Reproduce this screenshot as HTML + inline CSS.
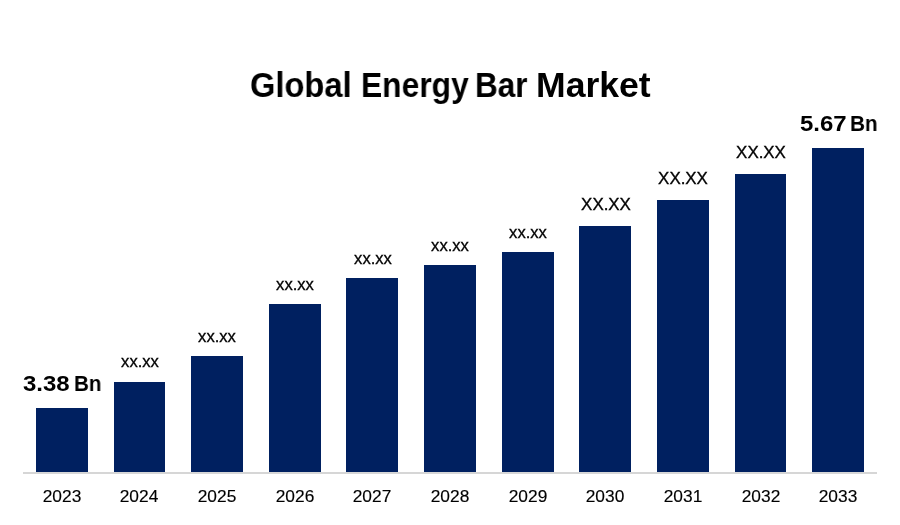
<!DOCTYPE html>
<html><head><meta charset="utf-8"><style>
html,body{margin:0;padding:0;background:#fff;}
body{width:900px;height:525px;position:relative;overflow:hidden;font-family:"Liberation Sans",sans-serif;color:#000;}
.bar{position:absolute;background:#002060;}
.t{position:absolute;white-space:nowrap;line-height:1;will-change:transform;}
.axis{position:absolute;left:23px;top:472px;width:854px;height:2px;background:#d6d6d6;}
</style></head><body>
<div class="t" style="font-size:35px;top:67.07px;font-weight:bold;left:249.89px;transform:scaleX(0.9327);transform-origin:0 0;">Global</div>
<div class="t" style="font-size:35px;top:67.07px;font-weight:bold;left:360.52px;transform:scaleX(0.9078);transform-origin:0 0;">Energy</div>
<div class="t" style="font-size:35px;top:67.07px;font-weight:bold;left:475.14px;transform:scaleX(0.899);transform-origin:0 0;">Bar</div>
<div class="t" style="font-size:35px;top:67.07px;font-weight:bold;left:535.52px;transform:scaleX(1.0163);transform-origin:0 0;">Market</div>
<div class="t" style="font-size:22.5px;top:373.05px;font-weight:bold;left:22.89px;transform:scaleX(1.0659);transform-origin:0 0;">3.38</div>
<div class="t" style="font-size:22.5px;top:373.05px;font-weight:bold;left:73.54px;transform:scaleX(0.9144);transform-origin:0 0;">Bn</div>
<div class="t" style="font-size:22.5px;top:113.45px;font-weight:bold;left:800.30px;transform:scaleX(1.064);transform-origin:0 0;">5.67</div>
<div class="t" style="font-size:22.5px;top:113.45px;font-weight:bold;left:849.89px;transform:scaleX(0.9192);transform-origin:0 0;">Bn</div>
<div class="bar" style="left:36px;top:408px;width:52px;height:64px"></div>
<div class="bar" style="left:114px;top:382px;width:51px;height:90px"></div>
<div class="bar" style="left:191px;top:356px;width:52px;height:116px"></div>
<div class="bar" style="left:269px;top:304px;width:52px;height:168px"></div>
<div class="bar" style="left:346px;top:278px;width:52px;height:194px"></div>
<div class="bar" style="left:424px;top:265px;width:52px;height:207px"></div>
<div class="bar" style="left:502px;top:252px;width:52px;height:220px"></div>
<div class="bar" style="left:579px;top:226px;width:52px;height:246px"></div>
<div class="bar" style="left:657px;top:200px;width:52px;height:272px"></div>
<div class="bar" style="left:735px;top:174px;width:51px;height:298px"></div>
<div class="bar" style="left:812px;top:148px;width:52px;height:324px"></div>
<div class="axis"></div>
<div class="t" style="font-size:16.6px;top:353.75px;-webkit-text-stroke:0.3px #000;left:140.05px;transform:translateX(-50%) scaleX(1.0);">xx.xx</div>
<div class="t" style="font-size:16.6px;top:328.85px;-webkit-text-stroke:0.3px #000;left:217.00px;transform:translateX(-50%) scaleX(1.0);">xx.xx</div>
<div class="t" style="font-size:16.6px;top:277.05px;-webkit-text-stroke:0.3px #000;left:295.00px;transform:translateX(-50%) scaleX(1.0);">xx.xx</div>
<div class="t" style="font-size:16.6px;top:250.85px;-webkit-text-stroke:0.3px #000;left:373.05px;transform:translateX(-50%) scaleX(1.0);">xx.xx</div>
<div class="t" style="font-size:16.6px;top:237.85px;-webkit-text-stroke:0.3px #000;left:450.00px;transform:translateX(-50%) scaleX(1.0);">xx.xx</div>
<div class="t" style="font-size:16.6px;top:224.85px;-webkit-text-stroke:0.3px #000;left:528.00px;transform:translateX(-50%) scaleX(1.0);">xx.xx</div>
<div class="t" style="font-size:16.6px;top:196.65px;-webkit-text-stroke:0.35px #000;left:605.90px;transform:translateX(-50%) scaleX(1.018);">XX.XX</div>
<div class="t" style="font-size:16.6px;top:170.65px;-webkit-text-stroke:0.35px #000;left:682.90px;transform:translateX(-50%) scaleX(1.018);">XX.XX</div>
<div class="t" style="font-size:16.6px;top:144.65px;-webkit-text-stroke:0.35px #000;left:760.90px;transform:translateX(-50%) scaleX(1.018);">XX.XX</div>
<div class="t" style="font-size:17px;top:487.51px;-webkit-text-stroke:0.15px #000;left:62.20px;transform:translateX(-50%) scaleX(1.02);">2023</div>
<div class="t" style="font-size:17px;top:487.51px;-webkit-text-stroke:0.15px #000;left:139.20px;transform:translateX(-50%) scaleX(1.02);">2024</div>
<div class="t" style="font-size:17px;top:487.51px;-webkit-text-stroke:0.15px #000;left:217.20px;transform:translateX(-50%) scaleX(1.02);">2025</div>
<div class="t" style="font-size:17px;top:487.51px;-webkit-text-stroke:0.15px #000;left:295.20px;transform:translateX(-50%) scaleX(1.02);">2026</div>
<div class="t" style="font-size:17px;top:487.51px;-webkit-text-stroke:0.15px #000;left:372.20px;transform:translateX(-50%) scaleX(1.02);">2027</div>
<div class="t" style="font-size:17px;top:487.51px;-webkit-text-stroke:0.15px #000;left:450.20px;transform:translateX(-50%) scaleX(1.02);">2028</div>
<div class="t" style="font-size:17px;top:487.51px;-webkit-text-stroke:0.15px #000;left:528.20px;transform:translateX(-50%) scaleX(1.02);">2029</div>
<div class="t" style="font-size:17px;top:487.51px;-webkit-text-stroke:0.15px #000;left:605.20px;transform:translateX(-50%) scaleX(1.02);">2030</div>
<div class="t" style="font-size:17px;top:487.51px;-webkit-text-stroke:0.15px #000;left:683.20px;transform:translateX(-50%) scaleX(1.02);">2031</div>
<div class="t" style="font-size:17px;top:487.51px;-webkit-text-stroke:0.15px #000;left:761.20px;transform:translateX(-50%) scaleX(1.02);">2032</div>
<div class="t" style="font-size:17px;top:487.51px;-webkit-text-stroke:0.15px #000;left:838.20px;transform:translateX(-50%) scaleX(1.02);">2033</div>
</body></html>
